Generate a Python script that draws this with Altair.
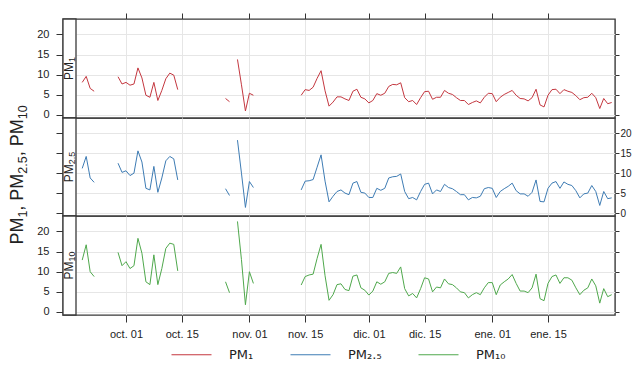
import altair as alt
import pandas as pd

FONT = "Liberation Sans"

series_names = ["PM₁", "PM₂.₅", "PM₁₀"]
series_subs = ["1", "2.5", "10"]
series_colors = ["#C4373F", "#3E7CB4", "#4FA84C"]
segment_starts = ["2015-09-20", "2015-09-29", "2015-10-26", "2015-10-29", "2015-11-14"]

pm1 = [
    [8.1, 9.6, 6.6, 5.9],
    [9.5, 7.7, 8.1, 7.4, 7.7, 11.7, 9.2, 4.9, 4.4, 8.1, 3.6, 6.1, 9.0, 10.4, 9.9, 6.3],
    [4.1, 3.3],
    [13.8, 7.5, 1.0, 5.4, 4.9],
    [4.9, 6.3, 6.1, 6.9, 9.1, 11.0, 6.0, 2.2, 3.2, 4.5, 4.5, 4.0, 3.6, 5.9, 6.4, 4.4, 4.0,
     3.0, 3.6, 5.3, 4.9, 5.4, 7.1, 7.6, 7.5, 8.0, 4.3, 3.3, 3.6, 2.6, 4.3, 5.8, 5.9, 3.9,
     4.4, 4.4, 6.1, 5.4, 5.1, 4.3, 3.6, 3.6, 2.6, 3.1, 3.5, 3.0, 4.4, 5.4,
     5.3, 3.3, 4.4, 5.1, 5.6, 6.1, 4.9, 4.1, 4.0, 3.5, 4.3, 6.4, 2.5, 2.0, 4.9, 6.3, 6.4,
     5.3, 6.3, 5.9, 5.6, 4.8, 3.8, 4.3, 4.4, 5.4, 4.3, 1.6, 4.1, 2.8, 3.1],
]
pm25 = [
    [11.2, 14.2, 8.8, 7.7],
    [12.5, 10.2, 10.6, 9.4, 10.0, 15.6, 12.8, 6.2, 5.8, 11.7, 5.2, 8.8, 13.1, 14.2, 13.6, 8.3],
    [6.1, 4.4],
    [18.3, 10.0, 1.4, 7.9, 6.4],
    [5.8, 8.0, 8.1, 8.4, 11.5, 14.6, 8.0, 2.8, 4.2, 5.4, 5.8, 5.0, 4.6, 7.5, 7.9, 5.2, 5.0,
     3.9, 3.9, 6.2, 5.7, 6.2, 8.8, 9.1, 9.2, 9.8, 5.4, 3.6, 3.9, 3.3, 5.4, 7.2, 7.5, 4.8,
     5.8, 5.4, 7.2, 6.4, 6.1, 5.4, 4.6, 4.6, 3.3, 3.9, 3.8, 4.2, 6.1, 6.4,
     6.2, 3.9, 5.4, 6.1, 6.7, 7.5, 5.6, 4.8, 4.8, 4.2, 5.2, 8.3, 2.9, 2.8, 6.2, 7.5, 7.9,
     6.2, 7.8, 7.2, 6.9, 5.6, 3.8, 4.8, 5.0, 6.9, 5.4, 1.9, 5.4, 3.6, 3.8],
]
pm10 = [
    [12.9, 16.7, 10.0, 8.8],
    [14.8, 11.5, 12.5, 10.8, 11.5, 18.3, 14.6, 7.5, 6.8, 14.2, 6.8, 10.8, 15.8, 17.1, 16.8, 10.2],
    [7.5, 4.8],
    [22.5, 13.0, 1.8, 10.0, 7.1],
    [6.7, 8.8, 9.2, 9.4, 13.3, 16.8, 9.0, 2.9, 4.3, 6.8, 7.0, 5.6, 5.3, 8.9, 9.2, 6.0, 5.4,
     4.2, 5.2, 7.5, 6.9, 7.5, 9.6, 9.8, 9.6, 11.2, 5.8, 4.0, 4.6, 3.5, 5.8, 8.5, 8.2, 5.0,
     6.2, 6.0, 8.2, 7.0, 6.8, 6.0, 5.0, 4.8, 3.5, 4.3, 4.8, 4.3, 6.0, 7.3,
     7.3, 4.3, 6.7, 7.5, 8.2, 9.3, 7.1, 5.2, 5.2, 4.8, 6.0, 9.4, 3.3, 2.8, 7.1, 8.8, 9.2,
     7.1, 8.5, 8.5, 7.9, 6.0, 4.3, 5.4, 6.0, 8.2, 6.5, 2.2, 5.8, 3.8, 4.3],
]

tick_dates = [(2015, 10, 1), (2015, 10, 15), (2015, 11, 1), (2015, 11, 15),
              (2015, 12, 1), (2015, 12, 15), (2016, 1, 1), (2016, 1, 15)]
tick_labels = ["oct. 01", "oct. 15", "nov. 01", "nov. 15", "dic. 01", "dic. 15", "ene. 01", "ene. 15"]
y_ticks = [0, 5, 10, 15, 20]
y_title_pieces = [("PM", False), ("1", True), (", PM", False), ("2.5", True), (", PM", False), ("10", True)]

rows = []
for name, segs in zip(series_names, [pm1, pm25, pm10]):
    for k, (start, vals) in enumerate(zip(segment_starts, segs)):
        for d, v in zip(pd.date_range(start, periods=len(vals), freq="D"), vals):
            rows.append({"date": d.strftime("%Y-%m-%dT%H:%M:%S"), "value": v, "series": name, "seg": k})
df = pd.DataFrame(rows)

x_ticks = [alt.DateTime(year=y, month=m, date=d) for (y, m, d) in tick_dates]
label_expr = "''"
for (y, m, d), lab in reversed(list(zip(tick_dates, tick_labels))):
    label_expr = f"timeFormat(datum.value, '%Y-%m-%d') == '{y:04d}-{m:02d}-{d:02d}' ? '{lab}' : ({label_expr})"

PANEL_W = 552
STRIP_W = 13
heights = [99, 98, 99]

x_scale = alt.Scale(
    domain=[alt.DateTime(year=2015, month=9, date=18, hours=10, minutes=33),
            alt.DateTime(year=2016, month=1, date=31, hours=19, minutes=55)],
    range=[STRIP_W, PANEL_W],
)
y_scale = alt.Scale(domain=[-0.75, 23.85], nice=False, zero=False)

# Arial-like advance widths (em) for composing text with true subscripts
ADV = {"P": 0.667, "M": 0.833, ",": 0.278, " ": 0.278, ".": 0.278}


def text_width(s, size):
    return sum(ADV.get(c, 0.556) for c in s) * size


def vertical_rich_text(pieces, main, sub, baseline_x, center_y, drop):
    sizes = [sub if is_sub else main for _, is_sub in pieces]
    widths = [text_width(t, s) for (t, _), s in zip(pieces, sizes)]
    y = center_y + sum(widths) / 2
    layers = []
    for (t, is_sub), s, w in zip(pieces, sizes, widths):
        layers.append(
            alt.Chart(pd.DataFrame({"t": [t]})).mark_text(
                angle=270, align="left", baseline="alphabetic", fontSize=s, font=FONT, color="#222"
            ).encode(x=alt.value(baseline_x + (drop if is_sub else 0)), y=alt.value(y), text="t:N")
        )
        y -= w
    return layers


def make_panel(i):
    name = series_names[i]
    h = heights[i]
    data = df[df.series == name]
    if i == 0:
        xaxis = alt.Axis(orient="top", values=x_ticks, labels=False, tickSize=6, grid=True, title=None)
    elif i == 1:
        xaxis = alt.Axis(orient="bottom", values=x_ticks, labels=False, ticks=False, grid=True, title=None)
    else:
        xaxis = alt.Axis(orient="bottom", values=x_ticks, labelExpr=label_expr, tickSize=7,
                         labelPadding=6, grid=True, title=None, labelFontSize=11)
    x = alt.X("date:T", scale=x_scale, axis=xaxis)
    left_labels = i != 1
    yl = alt.Y("value:Q", scale=y_scale,
               axis=alt.Axis(orient="left", values=y_ticks, labels=left_labels, grid=True,
                             tickSize=7, labelPadding=7, title=None))
    yr = alt.Y("value:Q", scale=y_scale,
               axis=alt.Axis(orient="right", values=y_ticks, labels=not left_labels, grid=False,
                             tickSize=4, labelPadding=1, labelFontSize=10, title=None))
    # a 40px line drawn from a 10px symbol box keeps the legend rows short
    legend = alt.Legend(orient="none", legendX=122, legendY=132, direction="horizontal", title=None,
                        symbolType="M-4,0H4", symbolSize=100, symbolStrokeWidth=1.2,
                        labelFontSize=13, labelFont="DejaVu Sans", labelOffset=31, columnPadding=34,
                        labelColor="#222")
    color = alt.Color("series:N", scale=alt.Scale(domain=series_names, range=series_colors),
                      legend=(legend if i == 2 else None))
    line = alt.Chart(data).mark_line(strokeWidth=1).encode(x=x, y=yl, color=color, detail="seg:N")
    ghost = alt.Chart(data).mark_line(strokeWidth=1, opacity=0).encode(x=x, y=yr, detail="seg:N")
    strip = alt.Chart(pd.DataFrame({"s": [name]})).mark_rect(
        fill="white", stroke="#3a3a3a", strokeWidth=1.3
    ).encode(x=alt.value(0), x2=alt.value(STRIP_W), y=alt.value(0), y2=alt.value(h))
    layers = [line, ghost, strip]
    layers += vertical_rich_text([("PM", False), (series_subs[i], True)], 12, 9, 9.8, h / 2, 2.5)
    if i == 1:
        layers += vertical_rich_text(y_title_pieces, 18, 12.5, -40, 57, 3.5)
    return alt.layer(*layers).resolve_axis(y="independent").properties(width=PANEL_W, height=h)


chart = alt.vconcat(make_panel(0), make_panel(1), make_panel(2), spacing=0, bounds="flush").resolve_scale(
    x="independent", y="independent", color="independent"
).properties(
    padding={"left": 0, "top": 3, "right": 0, "bottom": 0}
).configure_view(
    stroke="#3a3a3a", strokeWidth=1.4
).configure_axis(
    labelFont=FONT, labelFontSize=11, labelColor="#222", tickColor="#333",
    gridColor="#e6e6e6", domain=False, titleFont=FONT, titleFontWeight="normal",
    titleColor="#222"
).configure_text(font=FONT)

chart.save("out.html", embed_options={"renderer": "svg", "actions": False})
